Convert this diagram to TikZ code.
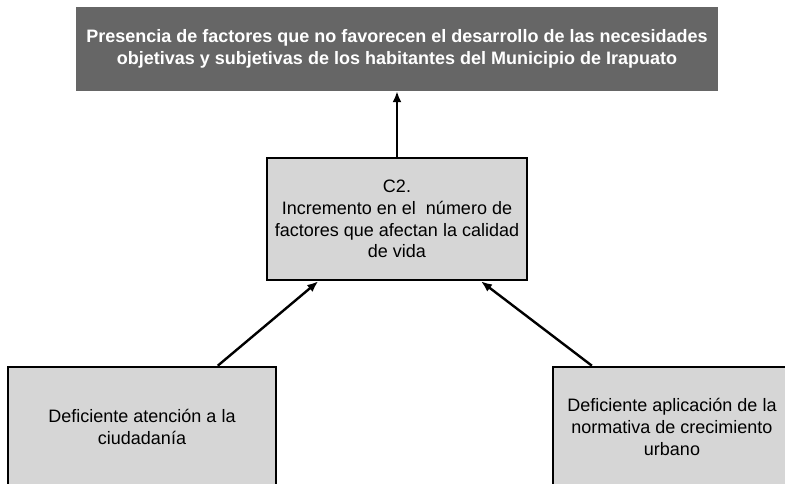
\documentclass[tikz,border=0pt]{standalone}
\usepackage{fontspec}
\setmainfont{Liberation Sans}
\usetikzlibrary{calc,arrows.meta}
\definecolor{effectgray}{gray}{0.40}
\definecolor{causegray}{gray}{0.84}

\begin{document}
\begin{tikzpicture}[x=1pt, y=-1pt,
  effect/.style={fill=effectgray, text=white, font=\fontsize{18}{21.6}\selectfont\bfseries, align=center, inner sep=0pt},
  cause/.style={draw, line width=2.6pt, fill=causegray, font=\fontsize{18}{21.6}\selectfont, align=center, inner sep=0pt},
  link/.style={line width=2.4pt, -{Latex[length=11pt,width=9pt]}}]
\useasboundingbox (0,0) rectangle (785,483);

\node[effect, minimum width=642pt, minimum height=84pt] (E) at (397, 49) {Presencia de factores que no favorecen el desarrollo de las necesidades\\objetivas y subjetivas de los habitantes del Municipio de Irapuato};
\node[cause, minimum width=260pt, minimum height=122pt] (C2) at (397, 219) {C2.\\Incremento en el\ \ número de\\factores que afectan la calidad\\de vida};
\node[cause, minimum width=268pt, minimum height=120pt] (A1) at (142, 427) {Deficiente atención a la\\ciudadanía};
\node[cause, minimum width=238pt, minimum height=120pt] (A2) at (672, 427) {Deficiente aplicación de la\\normativa de crecimiento\\urbano};

\draw[link] (C2) -- (E);
\draw[link] ($(A1.north west)!0.78!(A1.north east)$) -- ($(C2.south west)!0.2!(C2.south east)$);
\draw[link] ($(A2.north west)!0.167!(A2.north east)$) -- ($(C2.south west)!0.82!(C2.south east)$);
\end{tikzpicture}
\end{document}
